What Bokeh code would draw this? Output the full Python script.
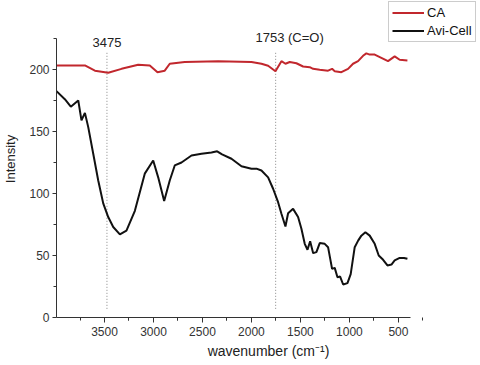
from bokeh.plotting import figure
from bokeh.models import Range1d, Legend, LegendItem, Label, FixedTicker
from bokeh.embed import file_html
from bokeh.resources import INLINE

# ---- data ----
ca_wn = [3990, 3700, 3598, 3462, 3326, 3156, 3038, 2959, 2885, 2834, 2681, 2340,
         2000, 1898, 1830, 1755, 1694, 1653, 1609, 1541, 1473, 1405, 1371, 1303,
         1218, 1177, 1150, 1082, 1014, 963, 912, 861, 827, 793, 742, 674, 606,
         538, 487, 408]
ca_val = [203.2, 203.2, 199, 197.3, 200.5, 203.8, 203.2, 197.8, 199, 204.6, 206,
          206.7, 206, 204.6, 203, 198.6, 206.7, 204.6, 206, 205, 202.4, 201.8,
          200.5, 199.8, 199, 200.5, 198.6, 197.8, 200.5, 204.6, 206.7, 211, 213,
          212, 212, 209.4, 206.7, 210.5, 207.8, 207.3]

avi_wn = [3990, 3905, 3844, 3768, 3735, 3700, 3666, 3615, 3564, 3513, 3462, 3411,
          3343, 3276, 3190, 3089, 3003, 2952, 2891, 2834, 2783, 2714, 2612, 2510,
          2408, 2350, 2300, 2204, 2102, 2000, 1949, 1898, 1830, 1779, 1728, 1694,
          1653, 1626, 1575, 1524, 1490, 1456, 1428, 1401, 1370, 1337, 1303, 1252,
          1218, 1177, 1150, 1122, 1095, 1064, 1020, 987, 946, 911, 878, 837, 793,
          742, 701, 656, 612, 571, 538, 487, 443, 408]
avi_val = [182.5, 176, 170, 175, 159, 165, 153.5, 132, 110.5, 92, 81, 73, 67, 70,
           86, 116, 126.6, 113, 94, 110.5, 122.6, 125, 130.6, 132, 133, 134, 131.5,
           128, 122, 120, 120, 118.5, 113, 103.8, 93, 83.6, 73.4, 84, 87.6, 81,
           71.5, 59.4, 54.6, 61.5, 51.9, 52.7, 60, 59.4, 56.7, 39.2, 40, 32.5, 33,
           26.6, 27.7, 35, 56.7, 62, 66, 68.8, 66, 59.4, 50, 46.5, 42, 42.7, 46,
           48, 48, 47.3]

peaks = [3475, 1753]
peak_labels = ["3475", "1753 (C=O)"]
peak_label_y = [221.8, 225.8]
x_ticks = [3500, 3000, 2500, 2000, 1500, 1000, 500]
y_ticks = [0, 50, 100, 150, 200]
x_axis_span = (3990, 375)
y_axis_span = (0, 225)

FONT = "Liberation Sans"

p = figure(width=480, height=365, output_backend="svg", toolbar_location=None,
           x_range=Range1d(3990, -338), y_range=Range1d(0, 255.6),
           min_border_left=55, min_border_right=0, min_border_top=0,
           min_border_bottom=48)
p.outline_line_color = None
p.xgrid.visible = False
p.ygrid.visible = False

for ax in (p.xaxis[0], p.yaxis[0]):
    ax.axis_line_color = "#333333"
    ax.major_tick_line_color = "#333333"
    ax.minor_tick_line_color = "#333333"
    ax.major_tick_out = 5
    ax.major_tick_in = 0
    ax.minor_tick_out = 3
    ax.minor_tick_in = 0
    ax.major_label_text_font = FONT
    ax.major_label_text_font_size = "12px"
    ax.major_label_text_color = "#333333"
    ax.axis_label_text_font = FONT
    ax.axis_label_text_font_style = "normal"
    ax.axis_label_text_color = "#222222"

p.xaxis.bounds = x_axis_span
p.yaxis.bounds = y_axis_span
p.xaxis.ticker = FixedTicker(ticks=x_ticks,
                             minor_ticks=[t + 250 for t in x_ticks] + [t - 250 for t in x_ticks])
p.yaxis.ticker = FixedTicker(ticks=y_ticks,
                             minor_ticks=[t + 25 for t in y_ticks])
p.xaxis.axis_label = "wavenumber (cm\u207b\u00b9)"
p.xaxis.axis_label_text_font_size = "14px"
p.xaxis.axis_label_standoff = 4
p.xaxis.major_label_standoff = 4
p.yaxis.axis_label = "Intensity"
p.yaxis.axis_label_text_font_size = "13px"
p.yaxis.major_tick_out = 4
p.yaxis.axis_label_standoff = 8
p.yaxis.major_label_standoff = 3

# dotted peak markers
p.segment(x0=peaks, x1=peaks, y0=[7, 7], y1=[215, 215], line_color="#888888",
          line_dash="1 2", line_width=1)
for px, txt, ly in zip(peaks, peak_labels, peak_label_y):
    off = 0 if txt == "3475" else 14
    p.add_layout(Label(x=px, y=ly, text=txt, x_offset=off, text_align="center",
                       text_baseline="middle", text_font=FONT,
                       text_font_size="13px", text_color="#222222"))

r_ca = p.line(ca_wn, ca_val, line_color="#c1272d", line_width=2)
r_avi = p.line(avi_wn, avi_val, line_color="#111111", line_width=2)

legend = Legend(items=[LegendItem(label="CA", renderers=[r_ca]),
                       LegendItem(label="Avi-Cell", renderers=[r_avi])],
                location=(332, 275), glyph_width=32, glyph_height=15,
                label_height=15, spacing=3, padding=3, margin=0,
                label_standoff=3, label_text_font=FONT,
                label_text_font_size="13px", label_text_color="#111111",
                border_line_color="#999999", background_fill_alpha=1)
p.add_layout(legend, "center")

open("out.html", "w").write(file_html(p, INLINE))
